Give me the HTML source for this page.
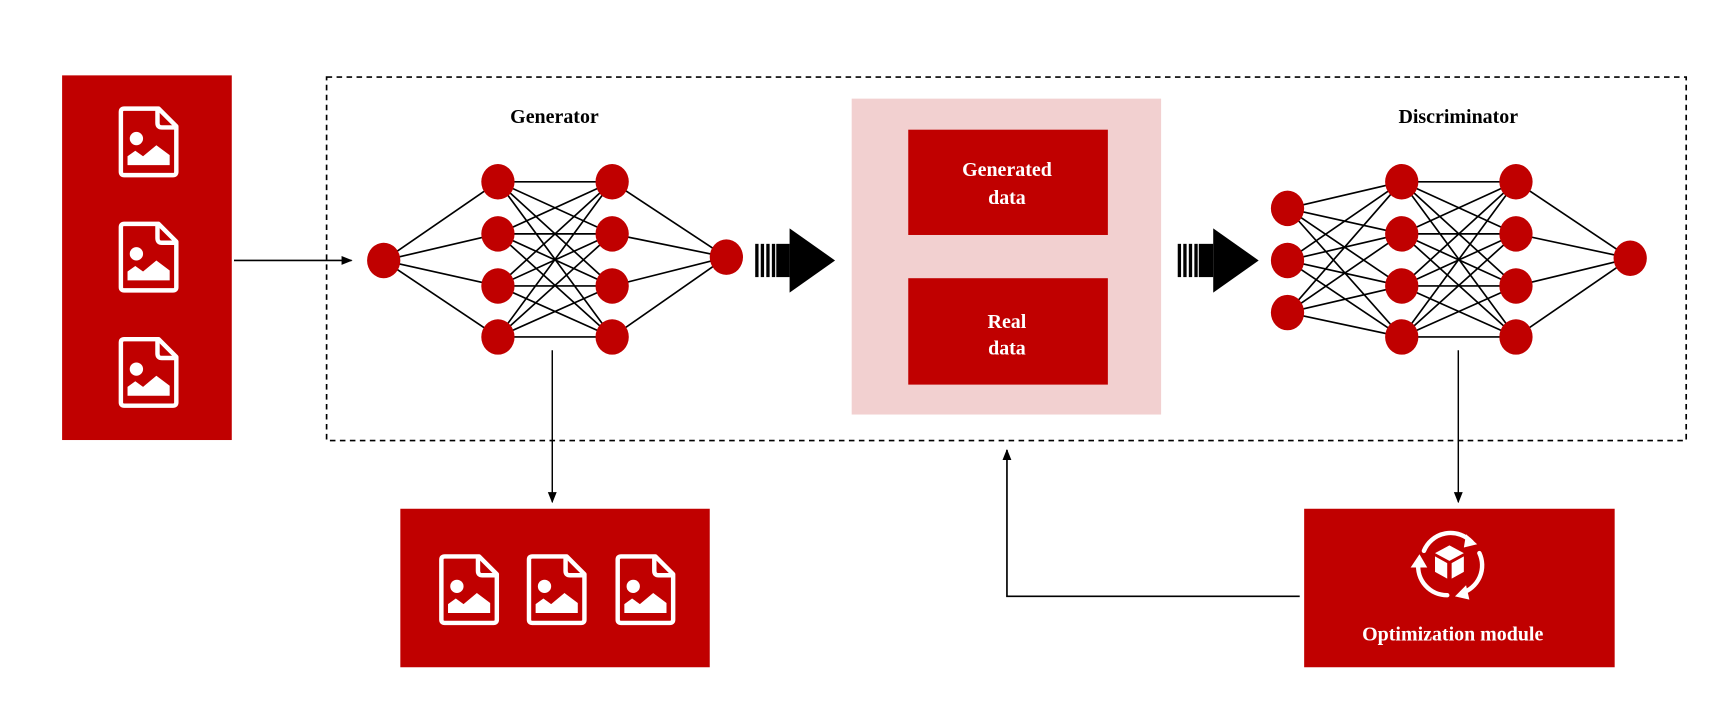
<!DOCTYPE html>
<html><head><meta charset="utf-8"><style>html,body{margin:0;padding:0;background:#fff}svg{display:block}</style></head><body>
<svg width="1730" height="726" viewBox="0 0 1560 655" preserveAspectRatio="none" xmlns="http://www.w3.org/2000/svg" font-family="'Liberation Serif',serif">
<defs>
<g id="doc">
<path d="M5,2 H36 L52,18 V59 Q52,62 49,62 H5 Q2,62 2,59 V5 Q2,2 5,2 Z" fill="none" stroke="#fff" stroke-width="4" stroke-linejoin="round"/>
<path d="M35,3 V15 Q35,19 39,19 H51" fill="none" stroke="#fff" stroke-width="4"/>
<circle cx="16" cy="29" r="6" fill="#fff"/>
<path d="M8,51 L8,45 L15,40 L22,45 L34,35 L46,44 L46,53 L8,53 Z" fill="#fff"/>
</g>
<marker id="ah" markerWidth="10" markerHeight="10" refX="9" refY="5" orient="auto" markerUnits="userSpaceOnUse"><path d="M0,1 L10,5 L0,9 Z" fill="#000"/></marker>
</defs>
<rect x="56" y="68" width="153" height="329" fill="#c00000"/>
<use href="#doc" x="107" y="96"/>
<use href="#doc" x="107" y="200"/>
<use href="#doc" x="107" y="304"/>
<line x1="211" y1="235" x2="317" y2="235" stroke="#000" stroke-width="1.5" marker-end="url(#ah)"/>
<rect x="294.5" y="69.5" width="1226" height="328" fill="none" stroke="#000" stroke-width="1.5" stroke-dasharray="5,4"/>
<text x="500" y="111" text-anchor="middle" font-weight="bold" font-size="18">Generator</text>
<text x="1315" y="111" text-anchor="middle" font-weight="bold" font-size="18">Discriminator</text>
<g stroke="#000" stroke-width="1.5">
<path d="M346,235 L449,164 M346,235 L449,211 M346,235 L449,258 M346,235 L449,304"/>
<path d="M449,164 L552,164 M449,164 L552,211 M449,164 L552,258 M449,164 L552,304
M449,211 L552,164 M449,211 L552,211 M449,211 L552,258 M449,211 L552,304
M449,258 L552,164 M449,258 L552,211 M449,258 L552,258 M449,258 L552,304
M449,304 L552,164 M449,304 L552,211 M449,304 L552,258 M449,304 L552,304"/>
<path d="M552,164 L655,232 M552,211 L655,232 M552,258 L655,232 M552,304 L655,232"/>
<path d="M1161,188 L1264,164 M1161,188 L1264,211 M1161,188 L1264,258 M1161,188 L1264,304
M1161,235 L1264,164 M1161,235 L1264,211 M1161,235 L1264,258 M1161,235 L1264,304
M1161,282 L1264,164 M1161,282 L1264,211 M1161,282 L1264,258 M1161,282 L1264,304"/>
<path d="M1264,164 L1367,164 M1264,164 L1367,211 M1264,164 L1367,258 M1264,164 L1367,304
M1264,211 L1367,164 M1264,211 L1367,211 M1264,211 L1367,258 M1264,211 L1367,304
M1264,258 L1367,164 M1264,258 L1367,211 M1264,258 L1367,258 M1264,258 L1367,304
M1264,304 L1367,164 M1264,304 L1367,211 M1264,304 L1367,258 M1264,304 L1367,304"/>
<path d="M1367,164 L1470,233 M1367,211 L1470,233 M1367,258 L1470,233 M1367,304 L1470,233"/>
</g>
<g fill="#c00000">
<ellipse cx="346" cy="235" rx="15" ry="16"/>
<ellipse cx="449" cy="164" rx="15" ry="16"/><ellipse cx="449" cy="211" rx="15" ry="16"/><ellipse cx="449" cy="258" rx="15" ry="16"/><ellipse cx="449" cy="304" rx="15" ry="16"/>
<ellipse cx="552" cy="164" rx="15" ry="16"/><ellipse cx="552" cy="211" rx="15" ry="16"/><ellipse cx="552" cy="258" rx="15" ry="16"/><ellipse cx="552" cy="304" rx="15" ry="16"/>
<ellipse cx="655" cy="232" rx="15" ry="16"/>
<ellipse cx="1161" cy="188" rx="15" ry="16"/><ellipse cx="1161" cy="235" rx="15" ry="16"/><ellipse cx="1161" cy="282" rx="15" ry="16"/>
<ellipse cx="1264" cy="164" rx="15" ry="16"/><ellipse cx="1264" cy="211" rx="15" ry="16"/><ellipse cx="1264" cy="258" rx="15" ry="16"/><ellipse cx="1264" cy="304" rx="15" ry="16"/>
<ellipse cx="1367" cy="164" rx="15" ry="16"/><ellipse cx="1367" cy="211" rx="15" ry="16"/><ellipse cx="1367" cy="258" rx="15" ry="16"/><ellipse cx="1367" cy="304" rx="15" ry="16"/>
<ellipse cx="1470" cy="233" rx="15" ry="16"/>
</g>
<g fill="#000">
<rect x="681" y="220" width="3" height="30"/><rect x="686" y="220" width="3" height="30"/><rect x="691" y="220" width="3" height="30"/><rect x="696" y="220" width="3" height="30"/><rect x="700" y="220" width="12" height="30"/>
<path d="M712,206 L753,235 L712,264 Z"/>
<rect x="1062" y="220" width="3" height="30"/><rect x="1067" y="220" width="3" height="30"/><rect x="1072" y="220" width="3" height="30"/><rect x="1077" y="220" width="3" height="30"/><rect x="1081" y="220" width="13" height="30"/>
<path d="M1094,206 L1135,235 L1094,264 Z"/>
</g>
<rect x="768" y="89" width="279" height="285" fill="#f2d0d0"/>
<rect x="819" y="117" width="180" height="95" fill="#c00000"/>
<rect x="819" y="251" width="180" height="96" fill="#c00000"/>
<g fill="#fff" font-weight="bold" font-size="18" text-anchor="middle">
<text x="908" y="159">Generated</text><text x="908" y="184">data</text>
<text x="908" y="296">Real</text><text x="908" y="320">data</text>
</g>
<line x1="498" y1="316" x2="498" y2="453" stroke="#000" stroke-width="1.3" marker-end="url(#ah)"/>
<line x1="1315" y1="316" x2="1315" y2="453" stroke="#000" stroke-width="1.3" marker-end="url(#ah)"/>
<rect x="361" y="459" width="279" height="143" fill="#c00000"/>
<use href="#doc" x="396" y="500"/>
<use href="#doc" x="475" y="500"/>
<use href="#doc" x="555" y="500"/>
<rect x="1176" y="459" width="280" height="143" fill="#c00000"/>
<path d="M1172,538 H908 V406" fill="none" stroke="#000" stroke-width="1.5" marker-end="url(#ah)"/>
<g fill="none" stroke="#fff" stroke-width="4" stroke-linecap="round">
<path d="M1284,497 A26,26 0 0 1 1327,489"/>
<path d="M1334,499 A26,26 0 0 1 1318,535"/>
<path d="M1305,537 A26,26 0 0 1 1279,508"/>
</g>
<g fill="#fff">
<path d="M1322,482 L1332,491 L1320,494 Z"/>
<path d="M1322,528 L1312,538 L1325,541 Z"/>
<path d="M1272,512 L1280,500 L1287,512 Z"/>
<path d="M1294,499 L1307,492 L1320,499 L1307,506 Z"/>
<path d="M1294,502 L1305,508 L1305,522 L1294,516 Z"/>
<path d="M1309,508 L1320,502 L1320,516 L1309,522 Z"/>
</g>
<text x="1310" y="578" text-anchor="middle" fill="#fff" font-weight="bold" font-size="18">Optimization module</text>
</svg>
</body></html>
